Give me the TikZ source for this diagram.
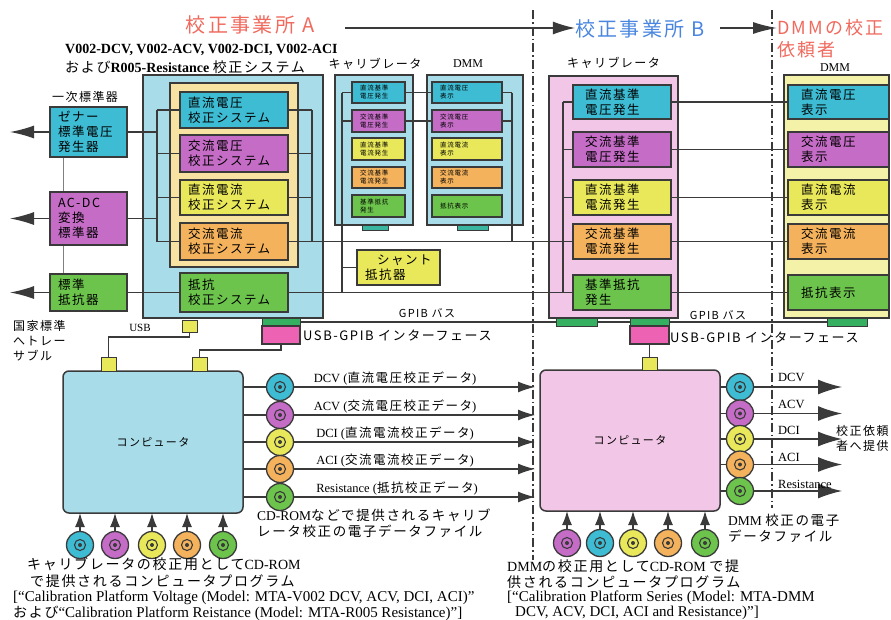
\documentclass[tikz,border=0pt]{standalone}
\usepackage{fontspec}
\setmainfont{Liberation Serif}
\newfontfamily\jp{Noto Sans CJK JP}[LetterSpace=12]
\usetikzlibrary{arrows.meta}
\definecolor{lcy}{HTML}{A8DCE8}
\definecolor{cyb}{HTML}{3DBCD3}
\definecolor{mgb}{HTML}{C46CC6}
\definecolor{yeb}{HTML}{E8E85A}
\definecolor{orb}{HTML}{F4B25C}
\definecolor{grb}{HTML}{6CC44C}
\definecolor{lyo}{HTML}{F8E2A2}
\definecolor{pkl}{HTML}{F2C6E6}
\definecolor{lyl}{HTML}{F4F2A8}
\definecolor{pkk}{HTML}{EE62B4}
\definecolor{stg}{HTML}{34B060}
\definecolor{stt}{HTML}{3AB5A0}
\definecolor{dk}{HTML}{3A3A3A}
\definecolor{tred}{HTML}{F06A5E}
\definecolor{tblue}{HTML}{4A86E0}
\newcommand\mkrect[6]{\pgfmathsetmacro\zbw{#5-#3}\pgfmathsetmacro\zbh{#6-#4}\pgfmathsetmacro\zcx{(#3+#5)/2}\pgfmathsetmacro\zcy{(#4+#6)/2}\node[bx,minimum width=\zbw pt,minimum height=\zbh pt,#2] (#1) at (\zcx,\zcy) {};}
\newcommand\mkbox[7]{\pgfmathsetmacro\zbw{#5-#3}\pgfmathsetmacro\zbh{#6-#4}\pgfmathsetmacro\ztw{#5-#3-16}\pgfmathsetmacro\zcx{(#3+#5)/2}\pgfmathsetmacro\zcy{(#4+#6)/2}\node[bx,minimum width=\zbw pt,minimum height=\zbh pt,text width=\ztw pt,inner xsep=8pt,#2] (#1) at (\zcx,\zcy) {#7};}
\begin{document}
\begin{tikzpicture}[x=1pt,y=-1pt,
  bx/.style={draw=dk,line width=1.5pt,inner sep=0pt,outer sep=0pt,rectangle,align=left,font=\jp\fontsize{12.5}{15}\selectfont},
  sm/.style={font=\jp\fontsize{6.5}{8}\selectfont},
  ln/.style={draw=dk,line width=1.3pt},
  thin/.style={draw=gray,line width=0.8pt},
  dd/.style={draw=dk,line width=1.1pt,dash pattern=on 9pt off 3pt on 1.5pt off 3pt},
  ttl/.style={font=\jp\fontsize{20}{22}\selectfont,inner sep=0pt},
  jp12/.style={font=\jp\fontsize{12}{15}\selectfont,inner sep=0pt},
  dl/.style={font=\fontsize{12.5}{14}\selectfont,inner sep=0pt},
  bt/.style={font=\fontsize{15}{17}\selectfont,inner sep=0pt,anchor=west},
  btj/.style={font=\fontsize{14}{16}\selectfont,inner sep=0pt,anchor=west},
  jack/.style={circle,draw=dk,line width=1.3pt,minimum size=27pt,inner sep=0pt,
    path picture={\draw[dk,line width=1.1pt] (path picture bounding box.center) circle[radius=5.5pt];
      \fill[dk] (path picture bounding box.center) circle[radius=2pt];}},
  arA/.style={ln,-{Latex[length=17pt,width=11pt]}},
  arB/.style={ln,-{Latex[length=24pt,width=15pt]}},
  arL/.style={ln,-{Latex[length=24pt,width=13pt]}},
  arU/.style={ln,-{Latex[length=14pt,width=10pt]}}]
\useasboundingbox (0,0) rectangle (891,619);
\fill[white] (0,0) rectangle (891,619);

% ---------- titles ----------
\node[ttl,text=tred] (tA) at (250,25) {校正事業所 A};
\node[ttl,text=tblue] (tB) at (640,29) {校正事業所 B};
\node[ttl,text=tred,anchor=west,font=\jp\fontsize{18}{20}\selectfont] (tC1) at (777,28) {DMMの校正};
\node[ttl,text=tred,anchor=west,font=\jp\fontsize{18}{20}\selectfont] (tC2) at (777,50) {依頼者};
\coordinate (arA0) at (345,28);
\coordinate (arB0) at (720,28);
\draw[arL,-{Latex[length=22pt,width=13pt]}] (arA0) -- (arA0 -| tB.west);
\draw[arL,-{Latex[length=24pt,width=12pt]}] (arB0) -- (arB0 -| tC1.west);
\coordinate (d1a) at (533,10); \coordinate (d1b) at (533,560);
\coordinate (d2a) at (772,10); \coordinate (d2b) at (772,508);
\draw[dd] (d1a) -- (d1b);
\draw[dd] (d2a) -- (d2b);

% ---------- headers ----------
\node[inner sep=0pt,anchor=west,font=\bfseries\fontsize{14}{16}\selectfont] (h1) at (65,50) {V002-DCV, V002-ACV, V002-DCI, V002-ACI};
\node[inner sep=0pt,anchor=west,font=\bfseries\fontsize{14}{16}\selectfont] (h2) at (65,67) {{\jp\mdseries および}R005-Resistance {\jp\mdseries 校正システム}};
\node[jp12] (hK) at (375,64) {キャリブレータ};
\node[inner sep=0pt,font=\fontsize{12}{14}\selectfont] (hD) at (468,64) {DMM};
\node[jp12,anchor=west] (hKB) at (567,63) {キャリブレータ};
\node[inner sep=0pt,font=\fontsize{12}{14}\selectfont] (hDB) at (835,68) {DMM};
\node[jp12,anchor=west] (h0) at (52,97) {一次標準器};

% ---------- containers ----------
\mkrect{mainA}{fill=lcy}{143}{75}{323}{318}
\mkrect{contA}{fill=lyo}{170}{83}{298}{267}
\mkrect{calA}{fill=lcy}{335}{75}{413}{225}
\mkrect{dmmA}{fill=lcy}{427}{75}{523}{225}
\mkrect{calB}{fill=pkl}{549}{76}{678}{318}
\mkrect{dmmB}{fill=lyl}{784}{75}{889}{318}
\mkrect{compA}{fill=lcy,rounded corners=6pt}{63}{371}{243}{513}
\mkrect{compB}{fill=pkl,rounded corners=6pt}{540}{370}{720}{511}
\node[jp12,font=\jp\fontsize{11}{13}\selectfont] (compAt) at (compA.center) {コンピュータ};
\node[jp12,font=\jp\fontsize{11}{13}\selectfont] (compBt) at (compB.center) {コンピュータ};

% ---------- bus coordinates ----------
\coordinate (lbT) at (157,110); \coordinate (lbB) at (157,241.5);
\coordinate (rbT) at (312,110); \coordinate (rbB) at (312,241.5);
\coordinate (kbT) at (342,92.5); \coordinate (kbB) at (342,292.5);
\coordinate (mbT) at (512,92.5); \coordinate (mbB) at (512,241.5);
\coordinate (qbT) at (563,102); \coordinate (qbB) at (563,292.5);
\coordinate (tlT) at (63,157); \coordinate (tlB) at (63,274);

% ---------- lines (under boxes) ----------
\draw[thin] (tlT) -- (tlB);
\draw[ln] (lbT) -- (lbB);
\draw[ln] (rbT) -- (rbB);
\draw[ln] (kbT) -- (kbB);
\draw[ln] (mbT) -- (mbB);
\draw[ln] (qbT) -- (qbB);

% ---------- standards ----------
\mkbox{s1}{fill=cyb}{50}{107}{127}{157}{ゼナー\\標準電圧\\発生器}
\mkbox{s2}{fill=mgb}{50}{192}{127}{245}{AC-DC\\変換\\標準器}
\mkbox{s3}{fill=grb}{50}{274}{127}{311}{標準\\抵抗器}

% ---------- system A inner boxes ----------
\mkbox{a1}{fill=cyb}{180}{92}{288}{128}{直流電圧\\校正システム}
\mkbox{a2}{fill=mgb}{180}{135}{288}{172}{交流電圧\\校正システム}
\mkbox{a3}{fill=yeb}{180}{180}{288}{215}{直流電流\\校正システム}
\mkbox{a4}{fill=orb}{180}{223}{288}{260}{交流電流\\校正システム}
\mkbox{a5}{fill=grb}{180}{273}{288}{312}{抵抗\\校正システム}

% ---------- calibrator / DMM A ----------
\mkbox{kA1}{fill=cyb,sm,inner xsep=5pt}{352}{82}{405}{103}{直流基準\\電圧発生}
\mkbox{kA2}{fill=mgb,sm,inner xsep=5pt}{352}{110}{405}{132}{交流基準\\電圧発生}
\mkbox{kA3}{fill=yeb,sm,inner xsep=5pt}{352}{138}{405}{160}{直流基準\\電流発生}
\mkbox{kA4}{fill=orb,sm,inner xsep=5pt}{352}{167}{405}{188}{交流基準\\電流発生}
\mkbox{kA5}{fill=grb,sm,inner xsep=5pt}{352}{195}{405}{217}{基準抵抗\\発生}
\mkbox{mA1}{fill=cyb,sm,inner xsep=5pt}{432}{82}{502}{103}{直流電圧\\表示}
\mkbox{mA2}{fill=mgb,sm,inner xsep=5pt}{432}{110}{502}{132}{交流電圧\\表示}
\mkbox{mA3}{fill=yeb,sm,inner xsep=5pt}{432}{138}{502}{160}{直流電流\\表示}
\mkbox{mA4}{fill=orb,sm,inner xsep=5pt}{432}{167}{502}{188}{交流電流\\表示}
\mkbox{mA5}{fill=grb,sm,inner xsep=5pt}{432}{195}{502}{217}{抵抗表示}
\mkrect{stkA}{fill=stt,line width=1pt}{362}{225}{388}{230}
\mkrect{stmA}{fill=stt,line width=1pt}{457}{225}{488}{230}
\mkbox{sh}{fill=yeb}{357}{250}{440}{285}{\hspace*{12pt}シャント\\抵抗器}

% ---------- calibrator / DMM B ----------
\mkbox{kB1}{fill=cyb,inner xsep=12pt}{577}{85}{667}{119}{直流基準\\電圧発生}
\mkbox{kB2}{fill=mgb,inner xsep=12pt}{577}{132}{667}{167}{交流基準\\電圧発生}
\mkbox{kB3}{fill=yeb,inner xsep=12pt}{577}{180}{667}{215}{直流基準\\電流発生}
\mkbox{kB4}{fill=orb,inner xsep=12pt}{577}{224}{667}{259}{交流基準\\電流発生}
\mkbox{kB5}{fill=grb,inner xsep=12pt}{577}{275}{667}{310}{基準抵抗\\発生}
\mkbox{mB1}{fill=cyb,inner xsep=13pt}{793}{85}{884}{119}{直流電圧\\表示}
\mkbox{mB2}{fill=mgb,inner xsep=13pt}{793}{132}{884}{167}{交流電圧\\表示}
\mkbox{mB3}{fill=yeb,inner xsep=13pt}{793}{180}{884}{215}{直流電流\\表示}
\mkbox{mB4}{fill=orb,inner xsep=13pt}{793}{224}{884}{259}{交流電流\\表示}
\mkbox{mB5}{fill=grb,inner xsep=13pt}{793}{275}{884}{310}{抵抗表示}

% ---------- connections ----------
\foreach \i in {1,2,3,4} {\draw[ln] (a\i.west) -- (a\i.west -| lbT); \draw[ln] (a\i.east) -- (a\i.east -| rbT);}
\draw[ln] (s1.east) -- (s1.east -| lbT);
\draw[ln] (s2.east) -- (s2.east -| lbT);
\draw[ln] (s3.east) -- (s3.east -| a5.west);
\draw[ln] (a4.east) -- (kB4.west);
\draw[ln] (a5.east) -- (kB5.west);
\foreach \i in {1,2} {\draw[ln] (kA\i.west) -- (kA\i.west -| kbT); \draw[ln] (mA\i.east) -- (mA\i.east -| mbT); \draw[ln] (kA\i.east) -- (mA\i.west);}
\draw[ln] (sh.west) -- (sh.west -| kbT);
\foreach \i in {1,2,3} {\draw[ln] (kB\i.west) -- (kB\i.west -| qbT);}
\foreach \i in {1,2,3,4,5} {\draw[ln] (kB\i.east) -- (mB\i.west);}
\coordinate (ar1) at (10,132); \coordinate (ar2) at (10,218.5); \coordinate (ar3) at (10,292.5);
\draw[arL] (s1.west) -- (ar1);
\draw[arL] (s2.west) -- (ar2);
\draw[arL] (s3.west) -- (ar3);

% ---------- GPIB / USB ----------
\mkrect{gA}{fill=stg,line width=1pt}{262}{318}{300}{326}
\mkrect{sKB}{fill=stg,line width=1pt}{556}{318}{597}{326}
\mkrect{gB}{fill=stg,line width=1pt}{630}{318}{669}{326}
\mkrect{sDB}{fill=stg,line width=1pt}{827}{318}{867}{326}
\draw[ln,line width=1.1pt] (gA.east) -- (sKB.west);
\draw[ln,line width=1.1pt] (sKB.east) -- (gB.west);
\draw[ln,line width=1.1pt] (gB.east) -- (sDB.west);
\mkrect{pkA}{fill=pkk}{262}{326}{300}{344}
\mkrect{pkB}{fill=pkk}{630}{326}{669}{344}
\mkrect{ys0}{fill=yeb,line width=1pt}{182}{320}{197}{332}
\mkrect{ys1}{fill=yeb,line width=1pt}{101}{357}{116}{371}
\mkrect{ys2}{fill=yeb,line width=1pt}{192}{357}{207}{371}
\mkrect{ysB}{fill=yeb,line width=1pt}{642}{357}{657}{370}
\coordinate (usbm) at (150,337);
\coordinate (pkm) at (240,350);
\draw[ln,line width=1.1pt] (ys0.south) |- (usbm) -| (ys1.north);
\draw[ln,line width=1.1pt] (pkA.south) |- (pkm) -| (ys2.north);
\draw[ln,line width=1.1pt] (pkB.south) -- (ysB.north);
\node[inner sep=0pt,font=\fontsize{11}{13}\selectfont] (usbt) at (140,328) {USB};
\node[jp12,font=\jp\fontsize{11}{13}\selectfont] (gpA) at (427,313) {GPIB バス};
\node[jp12,font=\jp\fontsize{11}{13}\selectfont] (gpB) at (718,315) {GPIB バス};
\node[jp12,anchor=west,font=\jp\fontsize{13}{15}\selectfont] (uiA) at (303,335) {USB-GPIB インターフェース};
\node[jp12,anchor=west,font=\jp\fontsize{13}{15}\selectfont] (uiB) at (670,337) {USB-GPIB インターフェース};
\node[jp12,anchor=north west,align=left] (nat) at (13,320) {国家標準\\へトレー\\サブル};

% ---------- computer outputs ----------
\foreach \i/\c/\y in {1/cyb/387,2/mgb/415,3/yeb/442,4/orb/469,5/grb/497} {
  \node[jack,fill=\c] (jA\i) at (280,\y) {};
  \draw[ln] (jA\i.west -| compA.east) -- (jA\i.west);
  \coordinate (eA\i) at (535,\y);
  \draw[arA] (jA\i.east) -- (eA\i);
  \node[jack,fill=\c] (jB\i) at (740,\y-1.5*\i+1.5) {};
  \draw[ln] (jB\i.west -| compB.east) -- (jB\i.west);
  \coordinate (eB\i) at (842,\y-1.5*\i+1.5);
  \draw[arB] (jB\i.east) -- (eB\i);
}
\node[dl] (lA1) at (395,378) {DCV ({\jp 直流電圧校正データ})};
\node[dl] (lA2) at (395,406) {ACV ({\jp 交流電圧校正データ})};
\node[dl] (lA3) at (395,433) {DCI ({\jp 直流電流校正データ})};
\node[dl] (lA4) at (395,460) {ACI ({\jp 交流電流校正データ})};
\node[dl] (lA5) at (397,488) {Resistance ({\jp 抵抗校正データ})};
\node[dl,anchor=west] (lB1) at (778,377) {DCV};
\node[dl,anchor=west] (lB2) at (778,404) {ACV};
\node[dl,anchor=west] (lB3) at (778,430) {DCI};
\node[dl,anchor=west] (lB4) at (778,457) {ACI};
\node[dl,anchor=west] (lB5) at (778,484) {Resistance};
\node[jp12,anchor=north west,align=left] (usr) at (836,425) {校正依頼\\者へ提供};
\node[jp12,anchor=north west,align=left,font=\fontsize{13.5}{16}\selectfont] (cdA) at (257,509) {CD-ROM{\jp などで提供されるキャリブ}\\{\jp レータ校正の電子データファイル}};
\node[jp12,anchor=north west,align=left,font=\fontsize{13.5}{16}\selectfont] (cdB) at (728,514) {DMM {\jp 校正の電子}\\{\jp データファイル}};

% ---------- bottom jacks ----------
\foreach \i/\c/\x in {1/cyb/80,2/mgb/115,3/yeb/152,4/orb/187,5/grb/223} {
  \node[jack,fill=\c] (bA\i) at (\x,545) {};
  \draw[arU] (bA\i.north) -- (bA\i.north |- compA.south);
}
\foreach \i/\c/\x in {1/mgb/567,2/cyb/600,3/yeb/633,4/orb/668,5/grb/705} {
  \node[jack,fill=\c] (bB\i) at (\x,543) {};
  \draw[arU] (bB\i.north) -- (bB\i.north |- compB.south);
}

% ---------- bottom texts ----------
\node[btj] (pA1) at (27,564) {{\jp キャリブレータの校正用として}CD-ROM};
\node[btj] (pA2) at (30,581) {\jp で提供されるコンピュータプログラム};
\node[bt] (pA3) at (13,598) {[``Calibration Platform Voltage (Model: MTA-V002 DCV, ACV, DCI, ACI)''};
\node[bt] (pA4) at (13,613) {{\jp\fontsize{14}{16}\selectfont および}``Calibration Platform Reistance (Model: MTA-R005 Resistance)'']};
\node[btj] (pB1) at (507,566) {DMM{\jp の校正用として}CD-ROM {\jp で提}};
\node[btj] (pB2) at (507,582) {\jp 供されるコンピュータプログラム};
\node[bt] (pB3) at (507,598) {[``Calibration Platform Series (Model: MTA-DMM};
\node[bt] (pB4) at (515,613) {DCV, ACV, DCI, ACI and Resistance)'']};
\end{tikzpicture}
\end{document}
